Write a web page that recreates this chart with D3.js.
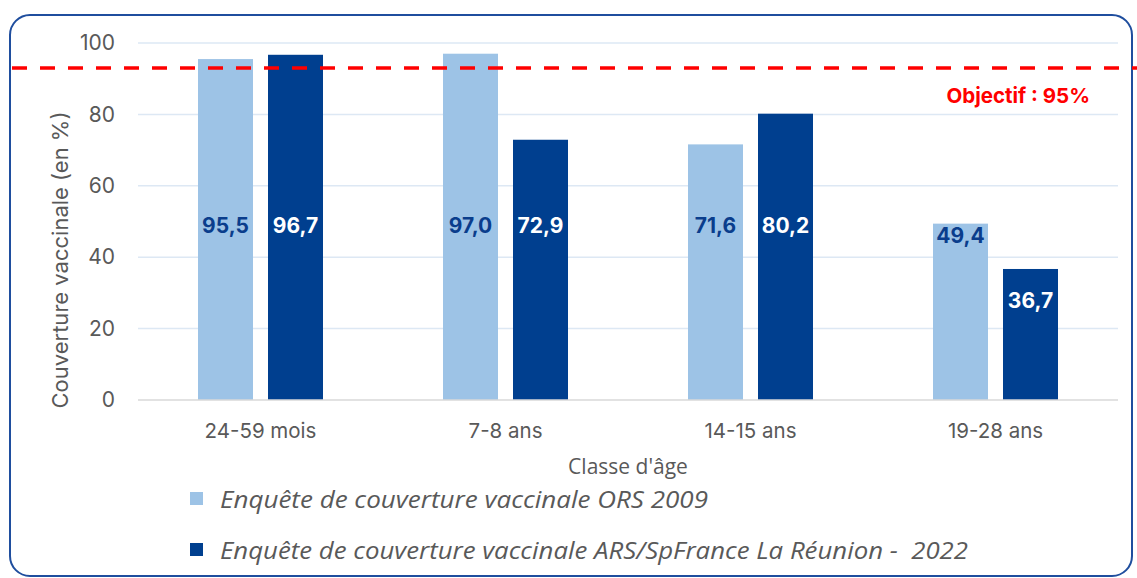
<!DOCTYPE html>
<html>
<head>
<meta charset="utf-8">
<script src="https://cdn.jsdelivr.net/npm/d3@7"></script>
<style>
  body { margin: 0; background: #fff; }
  svg { display: block; }
</style>
</head>
<body>
<div id="plot"></div>
<script>
var categories = ["24-59 mois", "7-8 ans", "14-15 ans", "19-28 ans"];
var seriesNames = [
  "Enquête de couverture vaccinale ORS 2009",
  "Enquête de couverture vaccinale ARS/SpFrance La Réunion -  2022"
];
var ors2009 = [95.5, 97.0, 71.6, 49.4];
var ars2022 = [96.7, 72.9, 80.2, 36.7];
var yTicks = [0, 20, 40, 60, 80, 100];
var objectif = 93; // drawn position of the "Objectif : 95%" line
var objectifLabel = "Objectif : 95%";

var width = 1137, height = 578;
var colors = ["#9dc3e6", "#003f8f"];
var labelColors = ["#0a3d8c", "#ffffff"];
var mainFont = "Inter, 'Noto Sans', sans-serif";

var svg = d3.select("#plot").append("svg")
    .attr("width", width)
    .attr("height", height);

// frame
svg.append("rect")
    .attr("x", 10).attr("y", 15)
    .attr("width", 1122).attr("height", 561)
    .attr("rx", 20).attr("ry", 20)
    .attr("fill", "#fff")
    .attr("stroke", "#1f4e9e")
    .attr("stroke-width", 2);

var xScale = d3.scaleBand()
    .domain(categories)
    .range([138, 1118]);

var yScale = d3.scaleLinear()
    .domain([0, 100])
    .range([400, 43]);

var inner = d3.scaleBand()
    .domain([0, 1])
    .range([xScale.bandwidth() / 2 - 62.5, xScale.bandwidth() / 2 + 62.5])
    .paddingInner(15 / 70);

// gridlines
svg.append("g")
  .selectAll("line")
  .data(yTicks.filter(d => d > 0))
  .join("line")
    .attr("x1", 138).attr("x2", 1118)
    .attr("y1", d => yScale(d)).attr("y2", d => yScale(d))
    .attr("stroke", "#dde8f4")
    .attr("stroke-width", 1.5);

// y axis
var yAxis = d3.axisLeft(yScale).tickValues(yTicks).tickSize(0).tickPadding(23);
svg.append("g")
    .attr("transform", "translate(138,0)")
    .call(yAxis)
    .call(g => g.select(".domain").remove())
    .call(g => g.selectAll("text")
      .attr("font-family", mainFont)
      .attr("font-size", 21)
      .attr("fill", "#595959"));

// bars
var series = [ors2009, ars2022];
var groups = svg.append("g")
  .selectAll("g")
  .data(categories)
  .join("g")
    .attr("transform", d => "translate(" + xScale(d) + ",0)");

function labelValue(v) {
  if (v > 60) return 49;
  if (v > 45) return v - 3.2;
  return v - 8.7;
}

groups.each(function(cat, i) {
  var g = d3.select(this);
  series.forEach(function(s, k) {
    g.append("rect")
      .attr("x", inner(k))
      .attr("width", inner.bandwidth())
      .attr("y", yScale(s[i]))
      .attr("height", yScale(0) - yScale(s[i]))
      .attr("fill", colors[k]);
    g.append("text")
      .attr("x", inner(k) + inner.bandwidth() / 2)
      .attr("y", yScale(labelValue(s[i])))
      .attr("dy", "0.36em")
      .attr("text-anchor", "middle")
      .attr("font-family", mainFont)
      .attr("font-weight", "bold")
      .attr("font-size", 21)
      .attr("fill", labelColors[k])
      .text(d3.format(".1f")(s[i]).replace(".", ","));
  });
});

// baseline + x axis
svg.append("line")
    .attr("x1", 138).attr("x2", 1118)
    .attr("y1", yScale(0)).attr("y2", yScale(0))
    .attr("stroke", "#d9d9d9")
    .attr("stroke-width", 1.5);

var xAxis = d3.axisBottom(xScale).tickSize(0).tickPadding(23);
svg.append("g")
    .attr("transform", "translate(0," + yScale(0) + ")")
    .call(xAxis)
    .call(g => g.select(".domain").remove())
    .call(g => g.selectAll("text")
      .attr("font-family", mainFont)
      .attr("font-size", 20.5)
      .attr("fill", "#595959"));

// objective line
svg.append("line")
    .attr("x1", 12).attr("x2", width)
    .attr("y1", yScale(objectif)).attr("y2", yScale(objectif))
    .attr("stroke", "#ff0000")
    .attr("stroke-width", 3.5)
    .attr("stroke-dasharray", "15,13");

svg.append("text")
    .attr("x", 1090).attr("y", 96)
    .attr("dy", "0.36em")
    .attr("text-anchor", "end")
    .attr("font-family", mainFont)
    .attr("font-weight", "bold")
    .attr("font-size", 20.5)
    .attr("fill", "#ff0000")
    .text(objectifLabel);

// axis titles
svg.append("text")
    .attr("transform", "translate(60,260) rotate(-90)")
    .attr("dy", "0.36em")
    .attr("text-anchor", "middle")
    .attr("font-family", mainFont)
    .attr("font-size", 22)
    .attr("fill", "#595959")
    .text("Couverture vaccinale (en %)");

svg.append("text")
    .attr("x", 628).attr("y", 466)
    .attr("dy", "0.36em")
    .attr("text-anchor", "middle")
    .attr("font-family", "'Open Sans', sans-serif")
    .attr("font-size", 21)
    .attr("fill", "#595959")
    .text("Classe d'âge");

// legend
var legendWidths = [488, 748];
var legend = svg.append("g")
  .selectAll("g")
  .data(seriesNames)
  .join("g")
    .attr("transform", (d, i) => "translate(190," + (499 + i * 51) + ")");

legend.append("rect")
    .attr("y", -7)
    .attr("width", 13).attr("height", 13)
    .attr("fill", (d, i) => colors[i]);

legend.append("text")
    .attr("x", 30)
    .attr("dy", "0.36em")
    .style("white-space", "pre")
    .attr("font-family", "'Open Sans', sans-serif")
    .attr("font-style", "italic")
    .attr("font-size", 24.5)
    .attr("textLength", (d, i) => legendWidths[i])
    .attr("lengthAdjust", "spacingAndGlyphs")
    .attr("fill", "#595959")
    .text(d => d);
</script>
</body>
</html>
